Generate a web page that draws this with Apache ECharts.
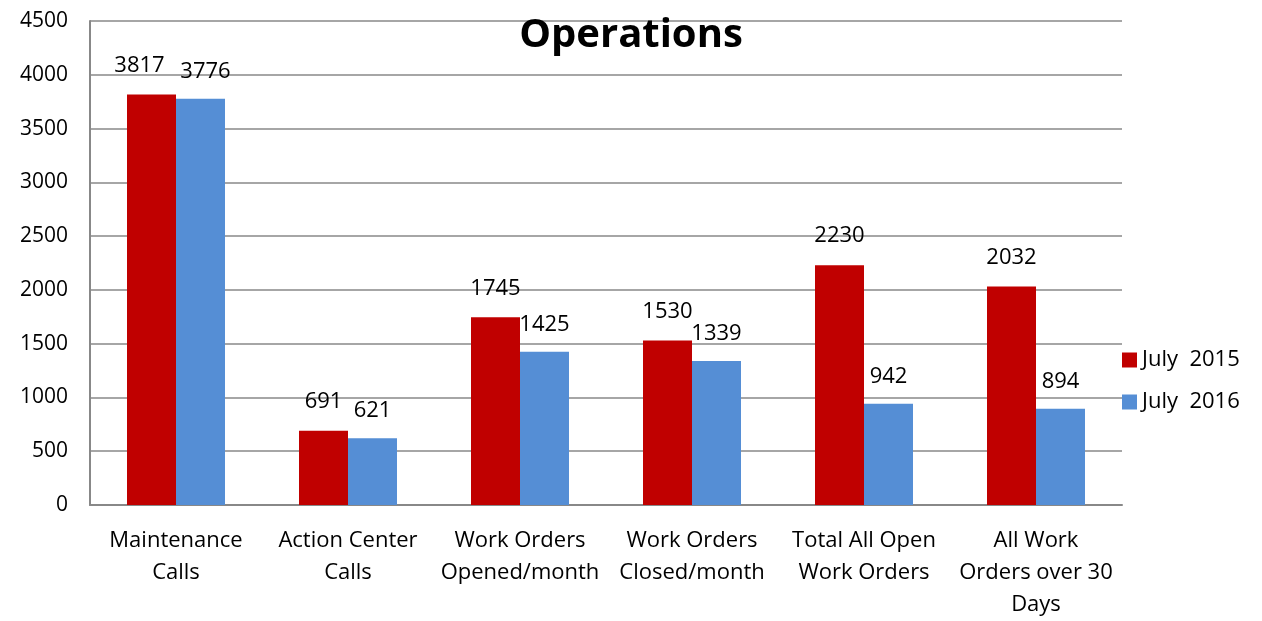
<!DOCTYPE html>
<html>
<head>
<meta charset="utf-8">
<script src="https://cdn.jsdelivr.net/npm/echarts@6/dist/echarts.min.js"></script>
<style>
  html, body { margin: 0; padding: 0; background: #fff; }
  #chart { width: 1262px; height: 621px; }
</style>
</head>
<body>
<div id="chart"></div>
<script>
// categories and values
const categories = [
  'Maintenance\nCalls',
  'Action Center\nCalls',
  'Work Orders\nOpened/month',
  'Work Orders\nClosed/month',
  'Total All Open\nWork Orders',
  'All Work\nOrders over 30\nDays'
];
const july2015 = [3817, 691, 1745, 1530, 2230, 2032];
const july2016 = [3776, 621, 1425, 1339, 942, 894];
const seriesNames = ['July  2015', 'July  2016'];

const font = '"Open Sans", Lato, sans-serif';

// first pair of labels sits a bit apart, like the original
function withOffset(values, dx) {
  return values.map((v, i) => i === 0 ? { value: v, label: { offset: [dx, 0] } } : v);
}

const chart = echarts.init(document.getElementById('chart'));
chart.setOption({
  animation: false,
  textStyle: { fontFamily: font },
  title: {
    text: 'Operations',
    left: 'center',
    top: 11,
    textStyle: { fontSize: 40, fontWeight: 'bold', color: '#000', fontFamily: font }
  },
  legend: {
    orient: 'vertical',
    left: 1117,
    top: 344,
    itemWidth: 15,
    itemHeight: 15,
    itemGap: 20,
    icon: 'rect',
    textStyle: { fontSize: 22, color: '#000', fontFamily: font },
    data: seriesNames
  },
  grid: { left: 90, right: 140, top: 21, bottom: 114 },
  xAxis: {
    type: 'category',
    data: categories,
    axisLine: { lineStyle: { color: '#888', width: 2 } },
    axisTick: { show: false },
    axisLabel: {
      color: '#000',
      fontSize: 22,
      lineHeight: 32,
      margin: 20,
      interval: 0,
      fontFamily: font
    }
  },
  yAxis: {
    type: 'value',
    min: 0,
    max: 4500,
    interval: 500,
    axisLine: { show: true, lineStyle: { color: '#888', width: 2 } },
    axisTick: { show: false },
    splitLine: { lineStyle: { color: '#888', width: 1.5 } },
    axisLabel: {
      color: '#000', fontSize: 21, margin: 22, fontFamily: font,
      formatter: v => String(v)
    }
  },
  series: [
    {
      name: seriesNames[0],
      type: 'bar',
      data: withOffset(july2015, -12),
      barWidth: 49,
      barGap: '0%',
      itemStyle: { color: '#C00000' },
      label: {
        show: true, position: 'top', distance: 18,
        color: '#000', fontSize: 22, fontFamily: font
      }
    },
    {
      name: seriesNames[1],
      type: 'bar',
      data: withOffset(july2016, 5),
      barWidth: 49,
      itemStyle: { color: '#558ED5' },
      label: {
        show: true, position: 'top', distance: 16,
        color: '#000', fontSize: 22, fontFamily: font
      }
    }
  ]
});
</script>
</body>
</html>
